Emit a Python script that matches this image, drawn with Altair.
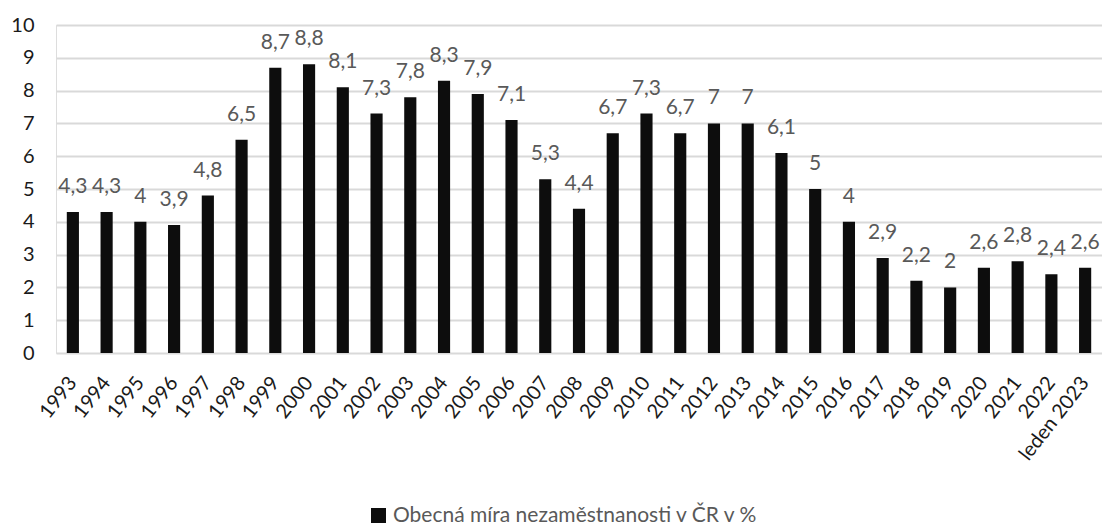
import altair as alt
import pandas as pd

years = ["1993", "1994", "1995", "1996", "1997", "1998", "1999", "2000", "2001", "2002",
         "2003", "2004", "2005", "2006", "2007", "2008", "2009", "2010", "2011", "2012",
         "2013", "2014", "2015", "2016", "2017", "2018", "2019", "2020", "2021", "2022",
         "leden 2023"]
values = [4.3, 4.3, 4.0, 3.9, 4.8, 6.5, 8.7, 8.8, 8.1, 7.3,
          7.8, 8.3, 7.9, 7.1, 5.3, 4.4, 6.7, 7.3, 6.7, 7.0,
          7.0, 6.1, 5.0, 4.0, 2.9, 2.2, 2.0, 2.6, 2.8, 2.4,
          2.6]
series_name = "Obecná míra nezaměstnanosti v ČR v %"

df = pd.DataFrame({"rok": years, "hodnota": values, "serie": series_name})

FONT = "Lato"

xscale = alt.Scale(paddingInner=0.64, paddingOuter=0.32)
yscale = alt.Scale(domain=[0, 10], nice=False)

xaxis = alt.Axis(labelAngle=-52, labelAlign="right", labelBaseline="middle",
                 labelPadding=26, ticks=False, domain=False,
                 labelFontSize=20, labelColor="#1a1a1a", labelFont=FONT,
                 labelOverlap=False, labelBound=False)
yaxis = alt.Axis(values=list(range(0, 11)), grid=True, gridColor="#d9d9d9",
                 gridWidth=2, ticks=False, domain=False, labelPadding=22,
                 labelFontSize=20, labelColor="#1a1a1a", labelFont=FONT,
                 labelOverlap=False)

bars = alt.Chart(df).mark_bar(color="#0d0d0d").encode(
    x=alt.X("rok:N", sort=years, title=None, scale=xscale, axis=xaxis),
    y=alt.Y("hodnota:Q", title=None, scale=yscale, axis=yaxis),
    color=alt.Color("serie:N", scale=alt.Scale(range=["#0d0d0d"]),
                    legend=alt.Legend(title=None, orient="none", legendX=312, legendY=480,
                                      symbolType="square", symbolSize=225,
                                      symbolStrokeWidth=0, labelFontSize=21,
                                      labelColor="#595959", labelFont=FONT,
                                      labelOffset=4, labelLimit=600)),
)

labels = alt.Chart(df).transform_calculate(
    lab="replace(toString(datum.hodnota), '.', ',')"
).mark_text(baseline="alphabetic", dy=-19, fontSize=21, color="#595959", font=FONT).encode(
    x=alt.X("rok:N", sort=years, title=None, scale=xscale, axis=xaxis),
    y=alt.Y("hodnota:Q", title=None, scale=yscale, axis=yaxis),
    text="lab:N",
)

chart = (bars + labels).properties(
    width=1046, height=328,
    autosize=alt.AutoSizeParams(type="none"),
    padding={"left": 48, "top": 17, "right": 0, "bottom": 172},
).configure_view(stroke=None).configure(background="white")

chart.save("out.html", embed_options={"renderer": "svg", "actions": False})
